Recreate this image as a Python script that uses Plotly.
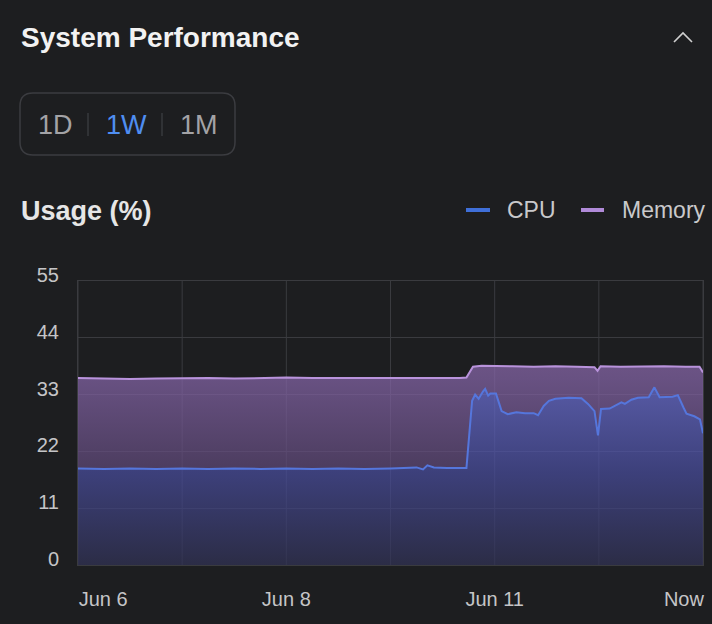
import plotly.graph_objects as go

# ---------------- data ----------------
# time in hours from start of window (6 grid divisions of 24h)
cpu_t = [0, 6, 12, 18, 24, 30, 36, 42, 48, 54, 60, 66, 72, 76, 78, 79.5, 80.5, 82, 85, 89.5,
         90.8, 91.5, 92.3, 93.3, 93.8, 94.5, 95.0, 96.3, 97, 97.6, 99, 101, 103, 105, 106,
         107.3, 108.5, 110, 113, 116, 117.5, 119, 119.8, 120.5, 122.5, 124, 125.2, 126,
         127.5, 129, 131.5, 132.8, 134, 137, 138.2, 139.5, 140.2, 142, 143.3, 144]
cpu_v = [18.7, 18.6, 18.7, 18.6, 18.7, 18.6, 18.7, 18.6, 18.7, 18.6, 18.7, 18.6, 18.7, 18.8,
         18.9, 18.5, 19.3, 18.9, 18.8, 18.8,
         31.8, 33.0, 32.2, 33.6, 34.1, 32.8, 33.2, 33.2, 31.5, 29.8, 29.2, 29.6, 29.4, 29.4, 29.0,
         30.8, 31.8, 32.2, 32.4, 32.3, 31.2, 29.8, 25.1, 30.2, 30.3, 30.9, 31.5, 31.2,
         32.0, 32.4, 32.5, 34.4, 32.5, 32.6, 32.9, 30.5, 29.3, 28.8, 28.2, 25.5]

mem_t = [0, 6, 12, 18, 24, 30, 36, 42, 48, 54, 60, 66, 72, 78, 84, 88, 89.5, 91, 93, 96,
         100, 105, 110, 115, 119, 119.7, 120.4, 125, 130, 135, 140, 143.2, 144]
mem_v = [36.2, 36.1, 36.0, 36.1, 36.2, 36.2, 36.1, 36.2, 36.3, 36.2, 36.2, 36.1, 36.2, 36.1,
         36.2, 36.2, 36.3, 38.4, 38.6, 38.5, 38.5, 38.4, 38.5, 38.4, 38.3, 37.6, 38.5,
         38.4, 38.5, 38.5, 38.4, 38.4, 37.3]

y_ticks = [0, 11, 22, 33, 44, 55]
x_grid = [0, 24, 48, 72, 96, 120, 144]
x_label_pos = [5.8, 48, 96, 139.6]
x_labels = ["Jun 6", "Jun 8", "Jun 11", "Now"]

title = "System Performance"
subtitle = "Usage (%)"
ranges = ["1D", "1W", "1M"]
series_names = ["CPU", "Memory"]

# ---------------- styling ----------------
BG = "#1d1e20"
GRID = "#3a3b3f"
FONT = "Liberation Sans, Arial, Helvetica, sans-serif"
CPU_LINE = "#5576dc"
MEM_LINE = "#b993dc"

W, H = 712, 624
L, R, T, B = 78, 703, 281, 565


def px(x):
    return (x - L) / (R - L)


def py(y):
    return (B - y) / (B - T)


fig = go.Figure()

fig.add_trace(go.Scatter(
    x=cpu_t, y=cpu_v, name=series_names[0], mode="lines",
    line=dict(color=CPU_LINE, width=2),
    fill="tozeroy",
    fillgradient=dict(type="vertical", start=0, stop=34.5,
                      colorscale=[[0, "rgba(49,50,85,0.72)"],
                                  [0.52, "rgba(73,77,158,0.72)"],
                                  [1, "rgba(109,113,215,0.72)"]]),
    hoverinfo="skip", showlegend=False,
))
fig.add_trace(go.Scatter(
    x=mem_t, y=mem_v, name=series_names[1], mode="lines",
    line=dict(color=MEM_LINE, width=2),
    fill="tonexty",
    fillgradient=dict(type="vertical", start=0, stop=38.5,
                      colorscale=[[0, "rgba(70,55,95,0.72)"],
                                  [0.49, "rgba(95,73,121,0.72)"],
                                  [0.935, "rgba(133,101,168,0.72)"],
                                  [1, "rgba(138,104,172,0.72)"]]),
    hoverinfo="skip", showlegend=False,
))

shapes = []
annotations = []

# vertical grid lines (data x positions)
for gx in x_grid:
    shapes.append(dict(type="line", xref="x", yref="paper", x0=gx, x1=gx, y0=0, y1=1,
                       layer="below", line=dict(color=GRID, width=1)))

# title
annotations.append(dict(x=px(19), y=py(37), xref="paper", yref="paper", text=f"<b>{title}</b>",
                        showarrow=False, xanchor="left", yanchor="middle",
                        font=dict(size=28, color="#f2f2f2", family=FONT)))
# chevron
shapes.append(dict(type="path", xref="paper", yref="paper",
                   path=f"M{px(674)},{py(42)} L{px(683)},{py(33)} L{px(692)},{py(42)}",
                   line=dict(color="#d0d0d0", width=1.6)))

# range toggle box (rounded rect)
x0, x1, y0, y1, r = 20, 235, 93, 155, 13
rx, ry = r / (R - L), r / (B - T)
X0, X1, Y0, Y1 = px(x0), px(x1), py(y1), py(y0)
path = (f"M{X0 + rx},{Y0} L{X1 - rx},{Y0} Q{X1},{Y0} {X1},{Y0 + ry} "
        f"L{X1},{Y1 - ry} Q{X1},{Y1} {X1 - rx},{Y1} L{X0 + rx},{Y1} "
        f"Q{X0},{Y1} {X0},{Y1 - ry} L{X0},{Y0 + ry} Q{X0},{Y0} {X0 + rx},{Y0} Z")
shapes.append(dict(type="path", xref="paper", yref="paper", path=path,
                   line=dict(color="#3b3c40", width=1.5), fillcolor="rgba(0,0,0,0)"))
for sx in (88, 162):
    shapes.append(dict(type="line", xref="paper", yref="paper", x0=px(sx), x1=px(sx),
                       y0=py(113), y1=py(136), line=dict(color="#45464a", width=1)))
for lbl, cx, col in zip(ranges, (55, 126, 199), ("#a3a3a6", "#4f8ef2", "#a3a3a6")):
    annotations.append(dict(x=px(cx), y=py(125), xref="paper", yref="paper", text=lbl,
                            showarrow=False, xanchor="center", yanchor="middle",
                            font=dict(size=27, color=col, family=FONT)))

# subtitle
annotations.append(dict(x=px(19), y=py(211), xref="paper", yref="paper", text=f"<b>{subtitle}</b>",
                        showarrow=False, xanchor="left", yanchor="middle",
                        font=dict(size=27, color="#e6e6e6", family=FONT)))

# custom legend
for name, (lx0, lx1, tx), col in zip(series_names, ((466, 490, 505), (581, 604, 620)),
                                      ("#3f6fd8", "#b08ad8")):
    shapes.append(dict(type="line", xref="paper", yref="paper", x0=px(lx0), x1=px(lx1),
                       y0=py(210), y1=py(210), line=dict(color=col, width=4)))
    annotations.append(dict(x=px(tx), y=py(210), xref="paper", yref="paper", text=name,
                            showarrow=False, xanchor="left", yanchor="middle",
                            font=dict(size=23, color="#c9c9cb", family=FONT)))

fig.update_layout(
    width=W, height=H,
    margin=dict(l=L, r=W - R, t=T, b=H - B),
    paper_bgcolor=BG, plot_bgcolor=BG,
    font=dict(family=FONT, color="#c5c5c7"),
    showlegend=False,
    shapes=shapes, annotations=annotations,
    xaxis=dict(range=[0, 144], tickmode="array", tickvals=x_label_pos, ticktext=x_labels,
               showgrid=False, zeroline=False,
               showline=True, mirror=True, linecolor=GRID, linewidth=1, ticks="",
               ticklabelstandoff=16, tickfont=dict(size=20, color="#c5c5c7")),
    yaxis=dict(range=[0, 55], tickmode="array", tickvals=y_ticks,
               showgrid=True, gridcolor=GRID, gridwidth=1, zeroline=False,
               showline=True, mirror=True, linecolor=GRID, linewidth=1, ticks="",
               ticklabelstandoff=14, ticklabelshift=-6,
               tickfont=dict(size=20, color="#c5c5c7")),
)

fig.write_html("out.html", config={"displayModeBar": False},
               post_script="document.body.style.margin='0';")
